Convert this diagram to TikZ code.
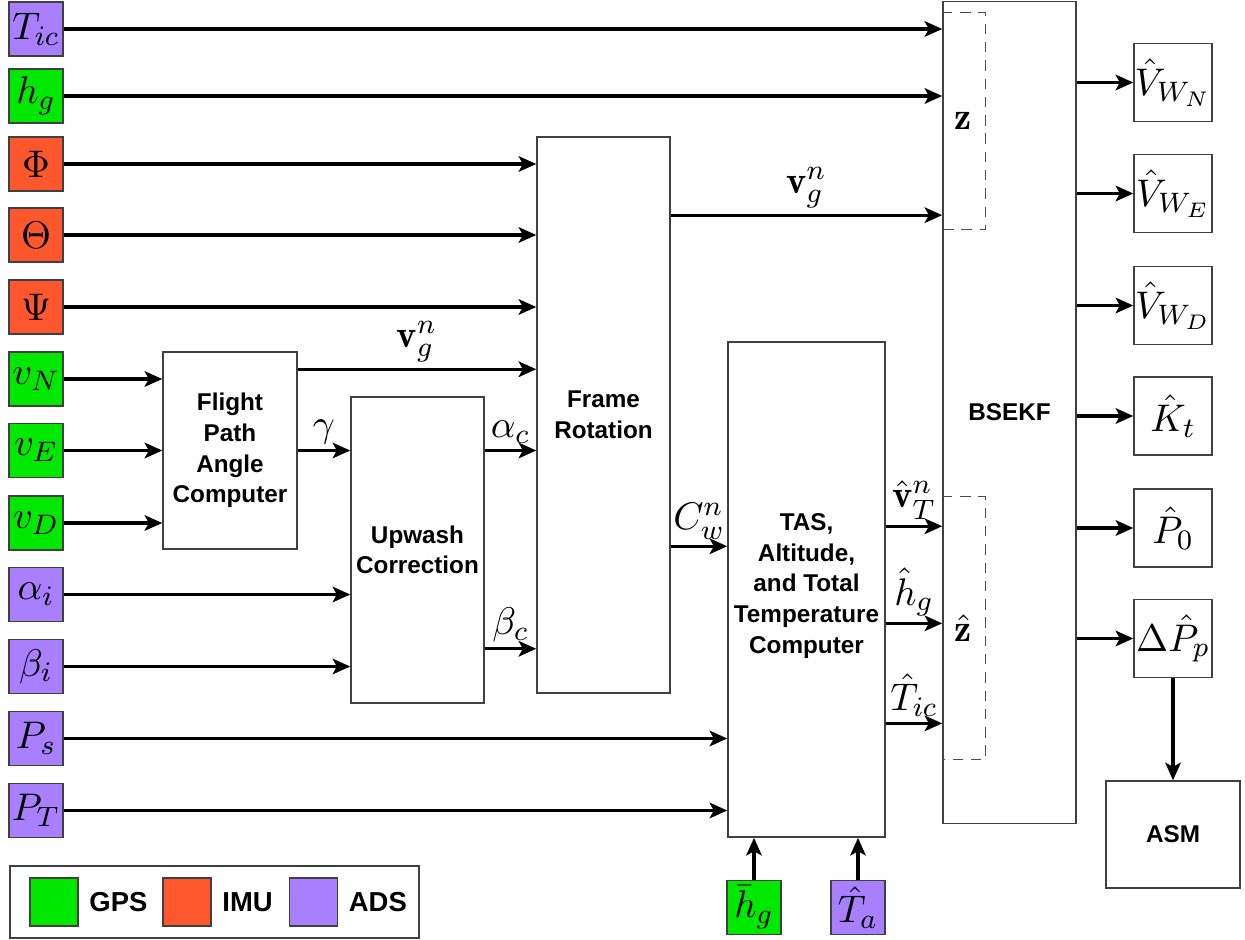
\documentclass[tikz,border=0pt]{standalone}
\usepackage{amsmath}
\usepackage{fontspec}
\setsansfont{Liberation Sans}
\usetikzlibrary{arrows.meta, positioning}
\definecolor{gpscol}{RGB}{0,232,0}
\definecolor{imucol}{RGB}{255,87,45}
\definecolor{adscol}{RGB}{168,128,255}

\begin{document}
\begin{tikzpicture}[
    x=0.01cm, y=-0.01cm,
    >={Stealth[length=5pt, width=4.4pt, inset=1.2pt]},
    mathfont/.style={font=\fontsize{10.95}{13}\selectfont},
    src/.style={draw=black!75, minimum width=0.54cm, minimum height=0.54cm, inner sep=0pt, mathfont},
    gps/.style={src, fill=gpscol},
    imu/.style={src, fill=imucol},
    ads/.style={src, fill=adscol},
    block/.style={draw=black!75, align=center, inner sep=0pt, font=\sffamily\bfseries\fontsize{6.9}{8.7}\selectfont},
    est/.style={draw=black!75, minimum width=0.78cm, minimum height=0.78cm, inner sep=0pt, mathfont},
    zone/.style={inner sep=0pt, minimum width=0.42cm, mathfont},
    zline/.style={draw=black!70, dash pattern=on 3pt off 2.2pt, line width=0.4pt},
    arr/.style={->, line width=0.95pt},
    lbl/.style={mathfont, inner sep=1.5pt},
    key/.style={draw=black!75, minimum width=0.48cm, minimum height=0.48cm, inner sep=0pt},
    keytext/.style={anchor=west, inner sep=0pt, font=\sffamily\bfseries\fontsize{7.8}{9}\selectfont},
]
\useasboundingbox (0,0) rectangle (1245,940);
% ----- the measured inputs, one row each
\foreach \n/\t/\s/\y in {tic/T_{ic}/ads/29, hg/h_g/gps/96, phi/\Phi/imu/164, theta/\Theta/imu/235,
    psi/\Psi/imu/307, vn/v_N/gps/379, ve/v_E/gps/450.5, vd/v_D/gps/523,
    ai/\alpha_i/ads/594.5, bi/\beta_i/ads/666.5, ps/P_s/ads/738.5, pt/P_T/ads/810.5}
  \node[\s] (\n) at (36,\y) {$\t$};
\node[gps] (hbar) at (754,907.5) {$\bar{h}_g$};
\node[ads] (ta) at (858,907.5) {$\hat{T}_a$};
% ----- the processing blocks
\node[block, minimum width=1.34cm, minimum height=1.97cm] (fpa) at (230,450.5) {Flight\\Path\\Angle\\Computer};
\node[block, minimum width=1.33cm, minimum height=3.06cm] (upw) at (417.5,550) {Upwash\\Correction};
\node[block, minimum width=1.33cm, minimum height=5.56cm] (frame) at (603.5,415) {Frame\\Rotation};
\node[block, minimum width=1.57cm, minimum height=4.95cm, text depth=0.12cm] (tas) at (806.5,589.5) {TAS,\\Altitude,\\and Total\\Temperature\\Computer};
\node[block, minimum width=1.33cm, minimum height=8.21cm] (bsekf) at (1009.5,412.5) {BSEKF};
\node[block, minimum width=1.34cm, minimum height=1.07cm] (asm) at (1173,834.5) {ASM};
% ----- the two measurement groups inside the filter
\node[zone, minimum height=2.16cm] (z) at (963.5,121) {$\mathbf{z}$};
\node[zone, minimum height=2.62cm] (zh) at (963.5,628) {$\hat{\mathbf{z}}$};
\draw[zline] (z.north west) -| (z.south east) -- (z.south west);
\draw[zline] (zh.north west) -| (zh.south east) -- (zh.south west);
% ----- the estimates
\foreach \n/\t/\y in {vwn/\hat{V}_{W_N}/82.5, vwe/\hat{V}_{W_E}/193.5, vwd/\hat{V}_{W_D}/305.5,
    kt/\hat{K}_t/416, p0/\hat{P}_0/528, dpp/\Delta\hat{P}_p/638.5}
  \node[est] (\n) at (1173,\y) {$\t$};
% ----- connectors
\draw[arr] (tic) -- (tic -| bsekf.west);
\draw[arr] (hg) -- (hg -| bsekf.west);
\foreach \n in {phi,theta,psi} \draw[arr] (\n) -- (\n -| frame.west);
\foreach \n in {vn,ve,vd} \draw[arr] (\n) -- (\n -| fpa.west);
\foreach \n in {ai,bi} \draw[arr] (\n) -- (\n -| upw.west);
\foreach \n in {ps,pt} \draw[arr] (\n) -- (\n -| tas.west);
\coordinate (vgo) at ([yshift=-0.18cm]fpa.north east);
\draw[arr] (vgo) -- (vgo -| frame.west) node[midway, above, lbl] {$\mathbf{v}_g^n$};
\draw[arr] (fpa.east) -- (fpa.east -| upw.west) node[midway, above, lbl] {$\gamma$};
\draw[arr] (ve -| upw.east) -- (ve -| frame.west) node[midway, above, lbl] {$\alpha_c$};
\coordinate (bco) at ([yshift=0.55cm]upw.south east);
\draw[arr] (bco) -- (bco -| frame.west) node[midway, above, lbl] {$\beta_c$};
\coordinate (vgf) at ([yshift=-0.79cm]frame.north east);
\draw[arr] (vgf) -- (vgf -| bsekf.west) node[midway, above, lbl] {$\mathbf{v}_g^n$};
\coordinate (cwo) at ([yshift=-2.05cm]tas.north west);
\draw[arr] (cwo -| frame.east) -- (cwo) node[midway, above, lbl] {$C_w^n$};
\foreach \c/\t/\d in {vto/\hat{\mathbf{v}}_T^n/1.85, hgo/\hat{h}_g/2.82, tco/\hat{T}_{ic}/3.82} {
  \coordinate (\c) at ([yshift=-\d cm]tas.north east);
  \draw[arr] (\c) -- (\c -| bsekf.west) node[midway, above, lbl] {$\t$};
}
\foreach \n in {vwn,vwe,vwd,kt,p0,dpp} \draw[arr] (\n -| bsekf.east) -- (\n);
\draw[arr] (dpp) -- (asm);
\draw[arr] (hbar) -- (hbar |- tas.south);
\draw[arr] (ta) -- (ta |- tas.south);
% ----- legend
\node[draw=black!75, minimum width=4.09cm, minimum height=0.72cm] (legend) at (214.5,902) {};
\node[key, fill=gpscol] (kgps) at (54,902) {};
\node[keytext, right=0.1cm of kgps] (tgps) {GPS};
\node[key, fill=imucol] (kimu) at (187,902) {};
\node[keytext, right=0.1cm of kimu] (timu) {IMU};
\node[key, fill=adscol] (kads) at (313.5,902) {};
\node[keytext, right=0.1cm of kads] (tads) {ADS};
\end{tikzpicture}
\end{document}
